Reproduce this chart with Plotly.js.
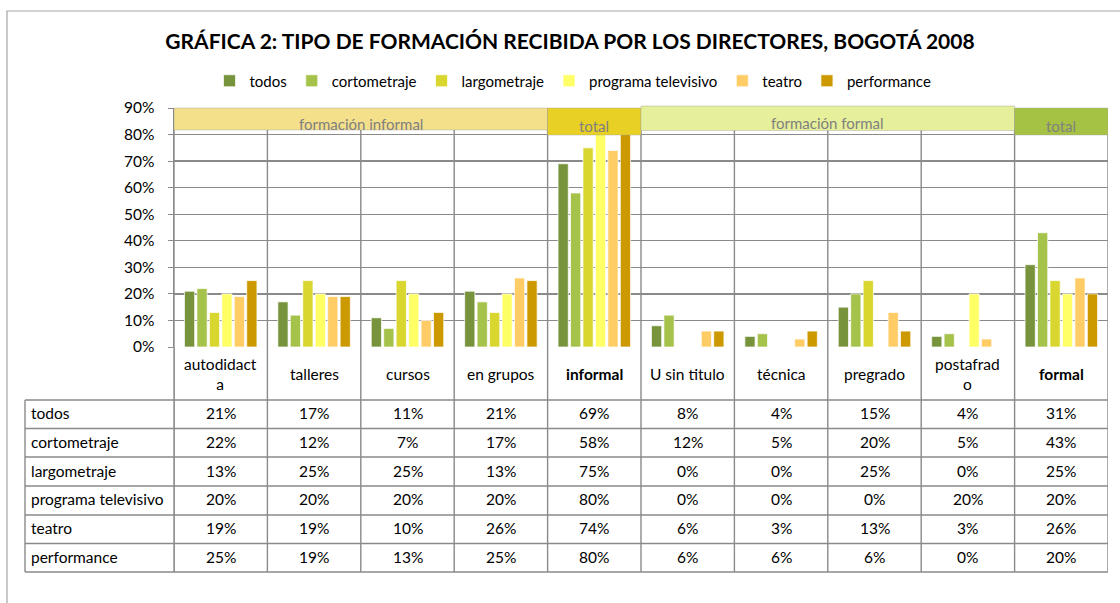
<!DOCTYPE html>
<html>
<head>
<meta charset="utf-8">
<script src="https://cdn.plot.ly/plotly-3.0.1.min.js"></script>
<style>html,body{margin:0;padding:0;background:#fff;}#chart{width:1120px;height:603px;}</style>
</head>
<body>
<div id="chart"></div>
<script>
// ---------- DATA ----------
const categories = ['autodidacta','talleres','cursos','en grupos','informal','U sin titulo','técnica','pregrado','postafrado','formal'];
const headerLabels = ['autodidact<br>a','talleres','cursos','en grupos','<b>informal</b>','U sin titulo','técnica','pregrado','postafrad<br>o','<b>formal</b>'];
const seriesNames = ['todos','cortometraje','largometraje','programa televisivo','teatro','performance'];
const todos        = [21, 17, 11, 21, 69,  8, 4, 15,  4, 31];
const cortometraje = [22, 12,  7, 17, 58, 12, 5, 20,  5, 43];
const largometraje = [13, 25, 25, 13, 75,  0, 0, 25,  0, 25];
const programaTelevisivo = [20, 20, 20, 20, 80, 0, 0, 0, 20, 20];
const teatro       = [19, 19, 10, 26, 74,  6, 3, 13,  3, 26];
const performance  = [25, 19, 13, 25, 80,  6, 6,  6,  0, 20];
const groupBands = [
  {label:'formación informal', from:0, to:3},
  {label:'total', from:4, to:4},
  {label:'formación formal', from:5, to:8},
  {label:'total', from:9, to:9}
];
const titleText = 'GRÁFICA 2: TIPO DE FORMACIÓN RECIBIDA POR LOS DIRECTORES, BOGOTÁ 2008';

// ---------- STYLE ----------
const seriesValues = [todos, cortometraje, largometraje, programaTelevisivo, teatro, performance];
const colors = ['#77933C','#A5C24A','#D8D62F','#FFFF66','#FFCC66','#CC9900'];
const bandColors = ['#F4DF8A','#E8D124','#E6EF99','#A5C244'];
const FONT = 'Lato, "Open Sans", sans-serif';
const TS = 15.5;
const W = 1120, H = 603;
const L = 174, R = 12, T = 108, B = 256;
const PW = W - L - R, PH = H - T - B;
const px = p => (p - L) / PW;       // pixel x -> paper x
const py = p => (H - B - p) / PH;   // pixel y -> paper y
const gridCol = '#8a8a8a';

const traces = seriesNames.map((name, i) => ({
  type: 'bar',
  name: name,
  x: categories.map((c, j) => j),
  y: seriesValues[i].map(v => v / 100),
  marker: {color: colors[i], line: {color: 'rgba(255,255,255,0.7)', width: 1}},
  hoverinfo: 'skip'
}));

const shapes = [];
const annotations = [];

// outer chart border
shapes.push({type:'rect', xref:'paper', yref:'paper', x0:px(7), x1:px(1140), y0:py(11), y1:py(640),
  line:{color:'#a6a6a6', width:1.2}, fillcolor:'rgba(0,0,0,0)', layer:'below'});

// vertical category separators through plot and table
for (let j = 0; j <= categories.length; j++) {
  shapes.push({type:'line', xref:'x', yref:'paper', x0:j-0.5, x1:j-0.5, y0:py(572), y1:1,
    line:{color:gridCol, width:1.4}, layer:'below'});
}
// table horizontal lines
const rowLines = [400, 428.5, 457, 486, 515, 543.5, 572];
rowLines.forEach(r => {
  shapes.push({type:'line', xref:'paper', yref:'paper', x0:px(25), x1:1, y0:py(r), y1:py(r),
    line:{color:gridCol, width:1.4}});
});
// left edge of table label column
shapes.push({type:'line', xref:'paper', yref:'paper', x0:px(25), x1:px(25), y0:py(400), y1:py(572),
  line:{color:gridCol, width:1.4}});
shapes.push({type:'line', xref:'paper', yref:'paper', x0:0, x1:0, y0:py(572), y1:0,
  line:{color:gridCol, width:1.4}});

// header labels
headerLabels.forEach((lab, j) => {
  annotations.push({xref:'x', yref:'paper', x:j, y:py(373.5), text:lab, showarrow:false,
    xanchor:'center', yanchor:'middle', font:{family:FONT, size:TS, color:'#000'}});
});
// table rows
seriesNames.forEach((name, i) => {
  const yc = py((rowLines[i] + rowLines[i+1]) / 2 - 1);
  annotations.push({xref:'paper', yref:'paper', x:px(29), y:yc, text:name, showarrow:false,
    xanchor:'left', yanchor:'middle', font:{family:FONT, size:TS, color:'#000'}});
  seriesValues[i].forEach((v, j) => {
    annotations.push({xref:'x', yref:'paper', x:j, y:yc, text:v + '%', showarrow:false,
      xanchor:'center', yanchor:'middle', font:{family:FONT, size:TS, color:'#000'}});
  });
});

// group bands at top
const bandTops = [108, 108, 106, 108];
const bandBottoms = [130, 135, 130.5, 135];
const bandTextY = [124, 126, 123, 126];
groupBands.forEach((g, k) => {
  shapes.push({type:'rect', xref:'x', yref:'paper', x0:g.from-0.5, x1:g.to+0.5,
    y0:py(bandBottoms[k]), y1:py(bandTops[k]), fillcolor:bandColors[k],
    line:{color:'rgba(160,160,160,0.5)', width:0.8}, layer:'above'});
  annotations.push({xref:'x', yref:'paper', x:(g.from+g.to)/2, y:py(bandTextY[k]), text:g.label,
    showarrow:false, xanchor:'center', yanchor:'middle', font:{family:FONT, size:15, color:'#808080'}});
});

const layout = {
  width: W, height: H,
  margin: {l:L, r:R, t:T, b:B, pad:0},
  paper_bgcolor: '#fff', plot_bgcolor: '#fff',
  font: {family: FONT, size: TS, color: '#000'},
  title: {text: '<b>' + titleText + '</b>', x: 570/W, xanchor:'center', y: 1 - 42/H, yanchor:'middle',
    font: {family: FONT, size: 21, color: '#000'}},
  barmode: 'group', bargap: 0.2, bargroupgap: 0.18,
  showlegend: true,
  legend: {orientation:'h', x: px(573), xanchor:'center', y: py(81), yanchor:'middle',
    font:{family:FONT, size:15, color:'#000'}, itemwidth:30, traceorder:'normal', bgcolor:'rgba(0,0,0,0)'},
  xaxis: {range:[-0.5, categories.length - 0.5], showticklabels:false, showgrid:false, zeroline:false,
    showline:false, ticks:'', fixedrange:true},
  yaxis: {range:[0, 0.9], dtick:0.1, tickformat:'.0%', showgrid:true, gridcolor:gridCol, gridwidth:1.4,
    zeroline:false, showline:true, linecolor:gridCol, linewidth:1.4, ticks:'outside', ticklen:5,
    tickcolor:gridCol, ticklabelstandoff:10, tickfont:{family:FONT, size:TS, color:'#000'}, fixedrange:true},
  shapes: shapes,
  annotations: annotations
};

Plotly.newPlot('chart', traces, layout, {displayModeBar:false, staticPlot:true});
</script>
</body>
</html>
